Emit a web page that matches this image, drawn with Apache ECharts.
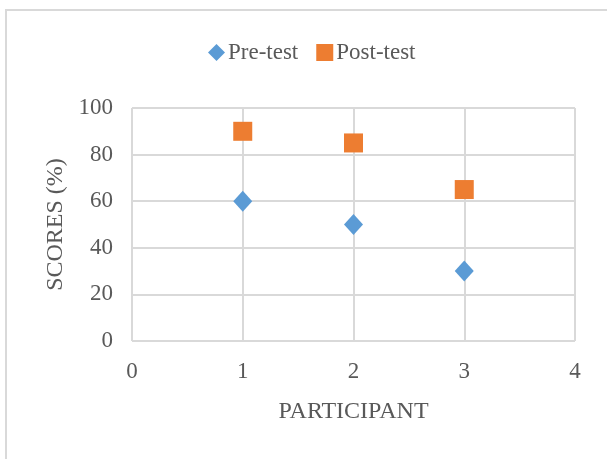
<!DOCTYPE html>
<html>
<head>
<meta charset="utf-8">
<script src="https://cdn.jsdelivr.net/npm/echarts@6/dist/echarts.min.js"></script>
<style>html,body{margin:0;padding:0;background:#fff;}#c{width:607px;height:459px;}</style>
</head>
<body>
<div id="c"></div>
<script>
const participants = [1, 2, 3];
const preTest = [60, 50, 30];
const postTest = [90, 85, 65];
const xTicks = [0, 1, 2, 3, 4];
const yTicks = [0, 20, 40, 60, 80, 100];

const font = 'Liberation Serif';
const textColor = '#595959';
const chart = echarts.init(document.getElementById('c'), null, {renderer: 'canvas'});
chart.setOption({
  animation: false,
  backgroundColor: '#fff',
  graphic: [
    {type: 'polyline', shape: {points: [[6, 459], [6, 10], [607, 10]]}, style: {stroke: '#d9d9d9', lineWidth: 2, fill: null}}
  ],
  legend: {
    top: 36, left: 203,
    itemWidth: 17, itemHeight: 17, itemGap: 18,
    textStyle: {fontFamily: font, fontSize: 23, color: textColor, padding: [0, 0, 0, -2]},
    data: [{name: 'Pre-test', icon: 'diamond'}, {name: 'Post-test', icon: 'rect'}]
  },
  grid: {left: 132, right: 32, top: 108, bottom: 118},
  xAxis: {
    type: 'value', min: xTicks[0], max: xTicks[xTicks.length - 1], interval: 1,
    name: 'PARTICIPANT', nameLocation: 'middle', nameGap: 59,
    nameTextStyle: {fontFamily: font, fontSize: 24, color: textColor},
    axisLine: {show: false}, axisTick: {show: false},
    axisLabel: {fontFamily: font, fontSize: 23, color: textColor, margin: 19},
    splitLine: {show: true, lineStyle: {color: '#d9d9d9', width: 2}}
  },
  yAxis: {
    type: 'value', min: yTicks[0], max: yTicks[yTicks.length - 1], interval: 20,
    name: 'SCORES (%)', nameLocation: 'middle', nameGap: 62,
    nameTextStyle: {fontFamily: font, fontSize: 24, color: textColor},
    axisLine: {show: false}, axisTick: {show: false},
    axisLabel: {fontFamily: font, fontSize: 23, color: textColor, margin: 19},
    splitLine: {show: true, lineStyle: {color: '#d9d9d9', width: 2}}
  },
  series: [
    {name: 'Pre-test', type: 'scatter', symbol: 'diamond', symbolSize: [19, 21],
     itemStyle: {color: '#5b9bd5', opacity: 1}, data: participants.map((p, i) => [p, preTest[i]])},
    {name: 'Post-test', type: 'scatter', symbol: 'rect', symbolSize: 19,
     itemStyle: {color: '#ed7d31', opacity: 1}, data: participants.map((p, i) => [p, postTest[i]])}
  ]
});
</script>
</body>
</html>
